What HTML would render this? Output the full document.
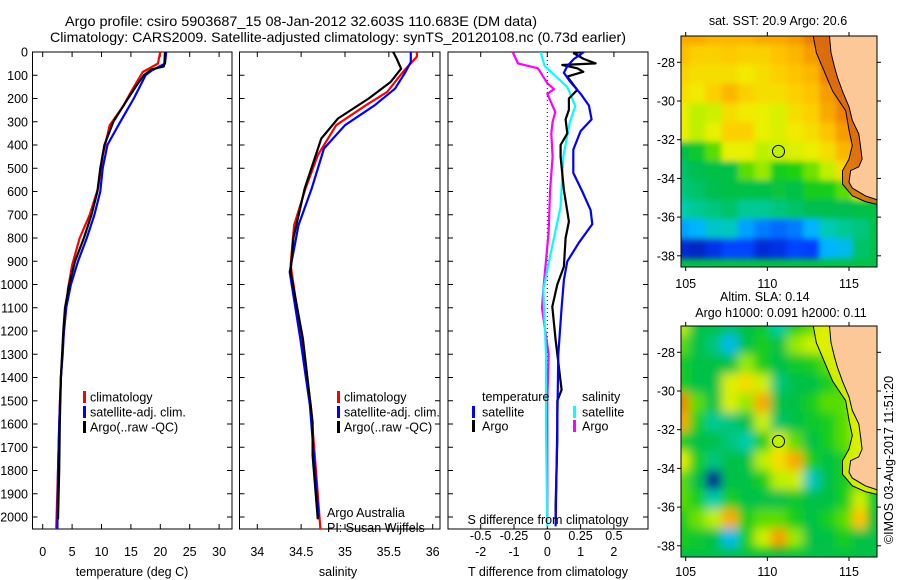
<!DOCTYPE html>
<html><head><meta charset="utf-8"><style>
body{margin:0;background:#fff}
svg{display:block;font-family:"Liberation Sans",sans-serif}
text{fill:#000}
</style></head><body>
<svg id="chart" width="900" height="580" viewBox="0 0 900 580" xmlns="http://www.w3.org/2000/svg">
<defs>
<filter id="blur1" x="-5%" y="-5%" width="110%" height="110%"><feGaussianBlur stdDeviation="3"/></filter>
<filter id="blur2" x="-5%" y="-5%" width="110%" height="110%"><feGaussianBlur stdDeviation="5"/></filter>
<clipPath id="cp1"><rect x="32.5" y="52" width="199.5" height="477"/></clipPath>
<clipPath id="cp2"><rect x="239.5" y="52" width="200.5" height="477"/></clipPath>
<clipPath id="cp3"><rect x="448" y="52" width="200" height="477"/></clipPath>
<clipPath id="cm1"><rect x="681" y="36" width="196" height="231"/></clipPath>
<clipPath id="cm2"><rect x="681" y="326" width="196" height="231"/></clipPath>
</defs>
<text x="65" y="26" font-size="14" textLength="472" lengthAdjust="spacingAndGlyphs">Argo profile: csiro 5903687_15 08-Jan-2012 32.603S 110.683E (DM data)</text>
<text x="50" y="42" font-size="14" textLength="576" lengthAdjust="spacingAndGlyphs">Climatology: CARS2009. Satellite-adjusted climatology: synTS_20120108.nc (0.73d earlier)</text>
<g id="g"></g>
</svg>
<script>
// ---------- profile data ----------
const tClimDepth=[0,50,86,172,229,315,444,587,700,800,917,1018,1233,1400,1520,1806,2052];
const tClimVal=[20.0,19.6,17.0,15.0,13.8,11.4,10.2,9.4,8.0,6.3,5.0,4.3,3.5,3.1,2.9,2.6,2.3];
const tSatDepth=[0,50,80,100,150,200,300,400,500,600,700,800,900,1000,1100,1200,1300,1400,1600,1800,2052];
const tSatVal=[21.0,20.8,18.5,17.5,16.5,15.5,13.2,11.0,10.2,9.8,8.8,7.5,6.0,4.8,4.0,3.6,3.4,3.1,2.8,2.6,2.5];
const tArgoDepth=[0,50,62,75,100,150,200,300,400,500,600,700,800,900,1000,1100,1200,1300,1400,1600,1800,2010];
const tArgoVal=[20.8,20.7,20.6,18.5,17.2,15.8,14.5,12.0,10.5,9.8,9.3,8.3,7.0,5.5,4.5,3.8,3.5,3.3,3.1,2.9,2.8,2.6];

const sClimDepth=[0,20,86,172,229,315,444,587,745,917,1018,1233,1520,1806,2052];
const sClimVal=[35.82,35.82,35.66,35.48,35.24,34.90,34.69,34.55,34.42,34.38,34.42,34.50,34.61,34.67,34.72];
const sSatDepth=[0,43,86,158,229,315,415,587,745,946,1233,1520,1806,2000];
const sSatVal=[35.75,35.75,35.69,35.57,35.34,35.00,34.76,34.62,34.47,34.37,34.49,34.60,34.66,34.70];
const sArgoDepth=[0,29,72,129,200,286,372,587,802,946,1233,1592,1735,2010];
const sArgoVal=[35.55,35.59,35.64,35.52,35.27,34.92,34.73,34.54,34.41,34.38,34.52,34.63,34.63,34.69];

const dTSatDepth=[0,30,60,90,130,180,230,290,340,420,520,600,680,740,820,900,980,1100,1300,1600,2040];
const dTSatVal=[1.1,0.8,0.6,0.5,0.7,1.0,1.25,1.33,1.0,0.78,0.78,1.05,1.3,1.35,0.95,0.6,0.5,0.43,0.33,0.3,0.25];
const dTArgoDepth=[0,6,30,49,56,70,85,106,163,200,249,290,350,400,450,593,729,800,923,1000,1095,1238,1453,1500,1668,1955,2010];
const dTArgoVal=[1.0,0.8,1.1,1.45,0.45,0.9,1.08,0.6,0.9,0.65,0.65,0.55,0.6,0.4,0.4,0.5,0.65,0.55,0.5,0.3,0.15,0.25,0.43,0.3,0.3,0.25,0.25];
const dSSatDepth=[0,60,150,233,300,450,665,880,1023,1300,1600,2040];
const dSSatVal=[-0.05,-0.02,0.15,0.21,0.17,0.12,0.1,0.02,-0.03,-0.01,-0.01,0.0];
const dSArgoDepth=[0,49,70,134,160,180,258,300,350,450,600,775,1023,1100,1300,1500,2010];
const dSArgoVal=[-0.26,-0.22,-0.07,0.0,0.05,0.0,0.06,0.04,0.03,0.04,0.02,0.01,-0.03,-0.04,0.01,0.0,0.0];

// ---------- map data (rows: lat -26.6 → -38.6 by 1°, cols: lon 104.7 → 116.7 by 1°) ----------
const sstGrid=[
[0.78,0.78,0.76,0.76,0.76,0.78,0.78,0.80,0.85,0.90,0.9,0.9],
[0.75,0.72,0.72,0.73,0.72,0.72,0.74,0.76,0.80,0.86,0.88,0.88],
[0.72,0.70,0.70,0.70,0.68,0.70,0.72,0.74,0.76,0.84,0.88,0.88],
[0.70,0.68,0.72,0.76,0.72,0.70,0.70,0.72,0.74,0.80,0.86,0.86],
[0.66,0.60,0.62,0.70,0.68,0.66,0.64,0.70,0.72,0.78,0.84,0.84],
[0.66,0.60,0.66,0.72,0.72,0.66,0.64,0.68,0.70,0.74,0.80,0.84],
[0.45,0.48,0.55,0.66,0.66,0.60,0.62,0.64,0.66,0.70,0.76,0.80],
[0.42,0.44,0.45,0.45,0.55,0.58,0.50,0.52,0.56,0.60,0.70,0.75],
[0.40,0.42,0.44,0.45,0.45,0.45,0.46,0.45,0.50,0.50,0.55,0.62],
[0.36,0.38,0.40,0.42,0.38,0.38,0.40,0.42,0.44,0.44,0.44,0.45],
[0.26,0.28,0.33,0.34,0.26,0.22,0.20,0.22,0.28,0.35,0.38,0.40],
[0.10,0.08,0.12,0.16,0.16,0.10,0.12,0.16,0.15,0.28,0.30,0.42]];
const slaGrid=[
[0.60,0.45,0.45,0.42,0.45,0.48,0.36,0.50,0.55,0.60,0.6,0.6],
[0.55,0.45,0.40,0.30,0.45,0.50,0.45,0.58,0.62,0.60,0.60,0.60],
[0.50,0.45,0.45,0.45,0.58,0.50,0.45,0.48,0.50,0.55,0.60,0.60],
[0.50,0.45,0.45,0.64,0.70,0.62,0.40,0.45,0.45,0.50,0.55,0.60],
[0.84,0.55,0.45,0.64,0.58,0.78,0.45,0.45,0.50,0.55,0.55,0.60],
[0.78,0.50,0.38,0.40,0.45,0.62,0.42,0.45,0.48,0.50,0.55,0.60],
[0.50,0.45,0.45,0.40,0.36,0.50,0.64,0.55,0.45,0.50,0.55,0.60],
[0.66,0.50,0.40,0.45,0.45,0.60,0.70,0.78,0.50,0.45,0.50,0.60],
[0.55,0.45,0.02,0.45,0.45,0.50,0.60,0.62,0.34,0.45,0.50,0.55],
[0.55,0.50,0.36,0.50,0.45,0.45,0.45,0.48,0.45,0.45,0.50,0.62],
[0.50,0.56,0.60,0.78,0.50,0.55,0.55,0.50,0.45,0.50,0.55,0.74],
[0.50,0.48,0.45,0.30,0.50,0.62,0.80,0.58,0.45,0.45,0.50,0.45]];
const coastLon=[113.8,113.9,114.1,114.3,114.6,115.0,115.2,115.6,115.7,115.8,115.6,115.1,115.0,115.2,116.0,116.7,117.0];
const coastLat=[-26.6,-27.5,-28.2,-28.8,-29.5,-30.3,-31.0,-31.7,-32.3,-33.0,-33.4,-33.6,-34.2,-34.5,-34.9,-35.1,-35.1];
const shelfLon=[112.8,113.0,113.5,114.0,114.8,115.0,115.2,115.0,114.6,114.6,115.2,116.0,117.0];
const shelfLat=[-26.6,-27.5,-28.5,-29.5,-30.5,-31.5,-32.3,-33.0,-33.6,-34.3,-34.9,-35.2,-35.4];
const argoLon=110.683, argoLat=-32.603;

const NS='http://www.w3.org/2000/svg';
const root=document.getElementById('g');
function mk(tag,attrs,parent){const e=document.createElementNS(NS,tag);for(const k in attrs)e.setAttribute(k,attrs[k]);(parent||root).appendChild(e);return e;}
function txt(x,y,s,opt,parent){const e=mk('text',Object.assign({x:x,y:y,'font-size':12.5},opt||{}),parent);e.textContent=s;return e;}

// axis functions
const depthY=d=>52+d*0.2325;
const tempX=t=>42.7+t*5.88;
const salX=s=>257.3+(s-34)*87.7;
const dTX=t=>547.3+t*33.3;
const dSX=s=>547.3+s*133.2;

function frame(x0,x1,name){
  const r=mk('rect',{x:x0,y:52,width:x1-x0,height:477,fill:'none',stroke:'#000','stroke-width':1});
  
  
}
function yTicks(x0,x1,labels){
  for(let d=0;d<=2000;d+=100){const y=depthY(d);
    mk('line',{x1:x0,x2:x0+5,y1:y,y2:y,stroke:'#000'});mk('line',{x1:x1,x2:x1-5,y1:y,y2:y,stroke:'#000'});
    if(labels){const t=txt(28,y+4.5,String(d),{'text-anchor':'end'});
      
      }
  }
}
function xTicks(vals,fx,labs,ylab){
  vals.forEach((v,i)=>{const x=fx(v);
    mk('line',{x1:x,x2:x,y1:529,y2:524,stroke:'#000'});mk('line',{x1:x,x2:x,y1:52,y2:57,stroke:'#000'});
    if(labs){const t=txt(x,ylab,labs[i],{'text-anchor':'middle'});
      
      }
  });
}
function line(ds,vs,fx,color,clip,name){
  const pts=ds.map((d,i)=>fx(vs[i]).toFixed(1)+','+depthY(d).toFixed(1)).join(' ');
  const p=mk('polyline',{points:pts,fill:'none',stroke:color,'stroke-width':2.2,'clip-path':'url(#'+clip+')','stroke-linejoin':'round'});
  
  
}
function legendItem(xb,xt,y,color,label,name){
  mk('rect',{x:xb,y:y-6,width:3,height:12,fill:color});
  const t=txt(xt,y+4.5,label);
  
  
}

// panel 1 temperature
frame(32.5,232,'temperature-panel');
yTicks(32.5,232,true);
const tTicks=[0,5,10,15,20,25,30];
xTicks(tTicks,tempX,tTicks.map(String),556);
line(tClimDepth,tClimVal,tempX,'#ff0000','cp1','temperature-climatology-line');
line(tSatDepth,tSatVal,tempX,'#0000ff','cp1','temperature-satellite-line');
line(tArgoDepth,tArgoVal,tempX,'#000000','cp1','temperature-argo-line');
let t=txt(132,576,'temperature (deg C)',{'text-anchor':'middle'});


legendItem(83,90,397,'#ff0000','climatology','legend-climatology');
legendItem(83,90,412,'#0000ff','satellite-adj. clim.','legend-satellite-adj');
legendItem(83,90,427,'#000000','Argo(..raw -QC)','legend-argo');

// panel 2 salinity
frame(239.5,440,'salinity-panel');
yTicks(239.5,440,false);
const sTicks=[34,34.5,35,35.5,36];
xTicks(sTicks,salX,sTicks.map(String),556);
line(sClimDepth,sClimVal,salX,'#ff0000','cp2','salinity-climatology-line');
line(sSatDepth,sSatVal,salX,'#0000ff','cp2','salinity-satellite-line');
line(sArgoDepth,sArgoVal,salX,'#000000','cp2','salinity-argo-line');
t=txt(338,576,'salinity',{'text-anchor':'middle'});


legendItem(337,344,397,'#ff0000','climatology','legend-climatology-2');
legendItem(337,344,412,'#0000ff','satellite-adj. clim.','legend-satellite-adj-2');
legendItem(337,344,427,'#000000','Argo(..raw -QC)','legend-argo-2');
t=txt(327,517,'Argo Australia');


t=txt(327,532,'PI: Susan Wijffels');



// panel 3 differences
frame(448,648,'difference-panel');
yTicks(448,648,false);
const dTTicks=[-2,-1,0,1,2];
xTicks(dTTicks,dTX,dTTicks.map(String),556);
mk('line',{x1:dTX(0),x2:dTX(0),y1:52,y2:529,stroke:'#000','stroke-dasharray':'1,3'});
line(dSArgoDepth,dSArgoVal,dSX,'#ff00ff','cp3','salinity-argo-diff-line');
line(dSSatDepth,dSSatVal,dSX,'#00ffff','cp3','salinity-satellite-diff-line');
line(dTArgoDepth,dTArgoVal,dTX,'#000000','cp3','temperature-argo-diff-line');
line(dTSatDepth,dTSatVal,dTX,'#0000ff','cp3','temperature-satellite-diff-line');
const dSLabVals=[-0.5,-0.25,0,0.25,0.5];
dSLabVals.forEach(v=>{const e=txt(dSX(v),540,String(v),{'text-anchor':'middle'});
  
  });
t=txt(548,524,'S difference from climatology',{'text-anchor':'middle'});


t=txt(548,576,'T difference from climatology',{'text-anchor':'middle'});


t=txt(482,401,'temperature');


t=txt(582,401,'salinity');


legendItem(472,482,412,'#0000ff','satellite','legend-t-satellite');
legendItem(472,482,426,'#000000','Argo','legend-t-argo');
legendItem(573,582,412,'#00ffff','satellite','legend-s-satellite');
legendItem(573,582,426,'#ff00ff','Argo','legend-s-argo');

// ---------- maps ----------
const stops=[[0,[0,10,130]],[0.15,[0,60,255]],[0.28,[0,180,255]],[0.36,[0,205,170]],[0.44,[0,190,80]],[0.52,[30,210,10]],[0.6,[190,240,0]],[0.67,[240,240,0]],[0.74,[255,195,0]],[0.84,[240,130,0]],[1,[190,80,0]]];
function cmap(v){v=Math.max(0,Math.min(1,v));for(let i=1;i<stops.length;i++){if(v<=stops[i][0]){const a=stops[i-1],b=stops[i],f=(v-a[0])/(b[0]-a[0]);const c=a[1].map((q,k)=>Math.round(q+(b[1][k]-q)*f));return 'rgb('+c.join(',')+')';}}return 'rgb(190,80,0)';}
const lonX=l=>685.7+(l-105)*16.33;
function drawMap(grid,off,clip,blur,shelfColor,name,tickY){
  const latY=la=>off+62.3+(-28-la)*19.35;
  const g=mk('g',{'clip-path':'url(#'+clip+')'});
  
  
  mk('rect',{x:681,y:off+36,width:196,height:231,fill:cmap(0.45)},g);
  const cg=mk('g',{filter:'url(#'+blur+')'},g);
  grid.forEach((row,r)=>row.forEach((v,c)=>{
    const x=lonX(104.7+c-0.5),y=latY(-26.6-r+0.5);
    const cell=mk('rect',{x:x.toFixed(1),y:y.toFixed(1),width:17.5,height:20.5,fill:cmap(v)},cg);
    
    
  }));
  const sp=shelfLon.map((l,i)=>lonX(l).toFixed(1)+','+latY(shelfLat[i]).toFixed(1));
  const cp=coastLon.map((l,i)=>lonX(l).toFixed(1)+','+latY(coastLat[i]).toFixed(1));
  mk('polygon',{points:sp.concat(cp.slice().reverse()).join(' '),fill:shelfColor,opacity:0.85},g);
  const land=cp.concat([lonX(117).toFixed(1)+','+latY(-26).toFixed(1),lonX(113.8).toFixed(1)+','+latY(-26).toFixed(1)]);
  const lp=mk('polygon',{points:land.join(' '),fill:'#fcc898',stroke:'#000','stroke-width':1},g);
  
  
  mk('polyline',{points:sp.join(' '),fill:'none',stroke:'#000','stroke-width':1},g);
  const c=mk('circle',{cx:lonX(argoLon),cy:latY(argoLat),r:6,fill:cmap(0.6),stroke:'#000','stroke-width':1});
  
  
  mk('rect',{x:681,y:off+36,width:196,height:231,fill:'none',stroke:'#000'});
  [-28,-30,-32,-34,-36,-38].forEach(la=>{const y=latY(la);
    mk('line',{x1:681,x2:677,y1:y,y2:y,stroke:'#000'});mk('line',{x1:877,x2:881,y1:y,y2:y,stroke:'#000'});
    const e=txt(675,y+4.5,String(la),{'text-anchor':'end'});
    
    });
  [105,110,115].forEach(lo=>{const x=lonX(lo);
    mk('line',{x1:x,x2:x,y1:off+36,y2:off+32,stroke:'#000'});mk('line',{x1:x,x2:x,y1:off+267,y2:off+271,stroke:'#000'});
    const e=txt(x,tickY,String(lo),{'text-anchor':'middle'});
    
    });
}
drawMap(sstGrid,0,'cm1','blur1','#d86a10','sst-map',288);
drawMap(slaGrid,290,'cm2','blur2','#e0f000','sla-map',576);
t=txt(778,25,'sat. SST: 20.9 Argo: 20.6',{'text-anchor':'middle'});


t=txt(720,301,'Altim. SLA: 0.14');


t=txt(781,317,'Argo h1000: 0.091 h2000: 0.11',{'text-anchor':'middle'});


t=txt(0,0,'©IMOS 03-Aug-2017 11:51:20',{'text-anchor':'middle',transform:'translate(893,460) rotate(-90)'});


</script>
</body></html>
